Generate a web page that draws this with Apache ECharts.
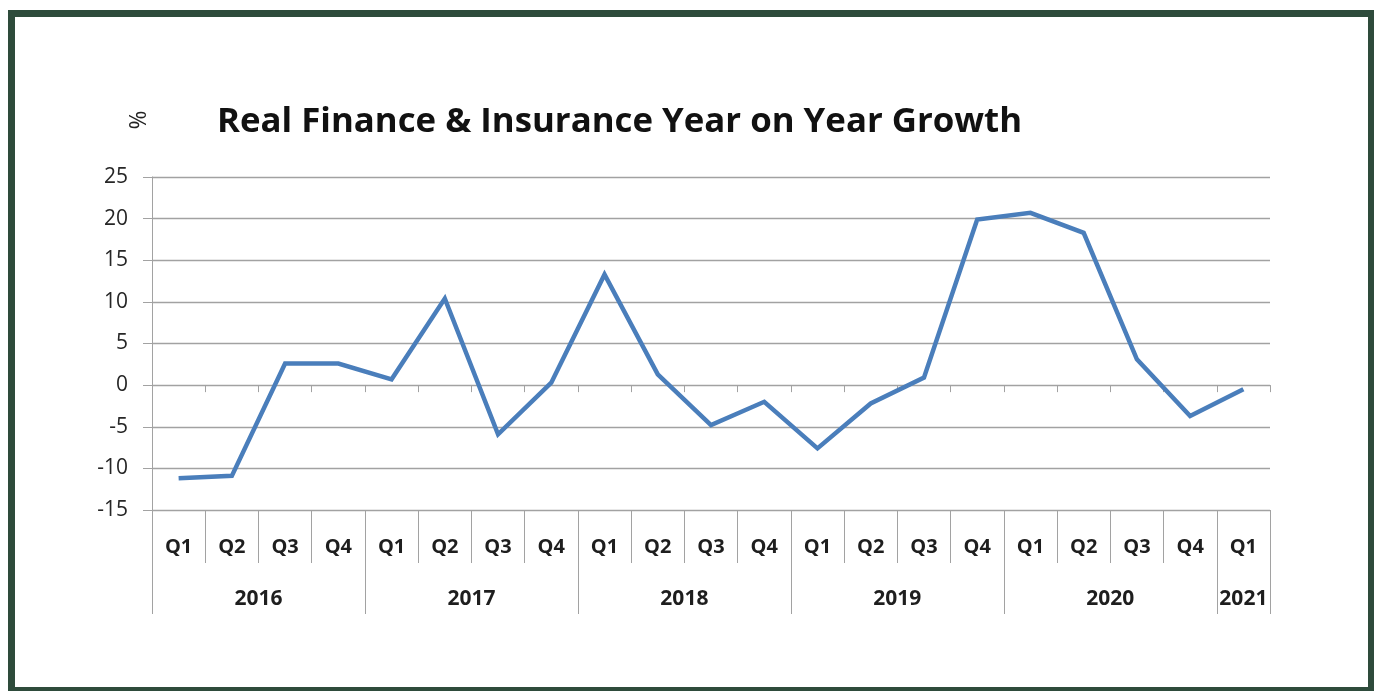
<!DOCTYPE html>
<html>
<head>
<meta charset="utf-8">
<script src="https://cdn.jsdelivr.net/npm/echarts@6/dist/echarts.min.js"></script>
<style>
html,body{margin:0;padding:0;background:#fff;}
#chart{width:1374px;height:691px;}
</style>
</head>
<body>
<div id="chart"></div>
<script>
const quarters = ['Q1','Q2','Q3','Q4','Q1','Q2','Q3','Q4','Q1','Q2','Q3','Q4','Q1','Q2','Q3','Q4','Q1','Q2','Q3','Q4','Q1'];
const years = ['2016','2017','2018','2019','2020','2021'];
const yearQuarterCounts = [4,4,4,4,4,1];
const growth = [-11.2,-10.9,2.6,2.6,0.7,10.4,-5.9,0.3,13.3,1.3,-4.8,-2.0,-7.6,-2.2,0.9,19.9,20.7,18.3,3.1,-3.7,-0.5];
const yTicks = {min:-15, max:25, interval:5};

// year boundaries and centres on a 0..N value scale
const yearBounds = [0];
yearQuarterCounts.forEach(c => yearBounds.push(yearBounds[yearBounds.length-1] + c));
const yearCenters = yearQuarterCounts.map((c,i) => yearBounds[i] + c/2);

const FONT = '"Open Sans", Lato, sans-serif';
const GRID = '#A2A2A2';

const chart = echarts.init(document.getElementById('chart'), null, {renderer:'canvas'});
chart.setOption({
  animation:false,
  backgroundColor:'#fff',
  title:{
    text:'Real Finance & Insurance Year on Year Growth',
    left:212, top:100,
    textStyle:{fontFamily:FONT, fontSize:34.8, fontWeight:'bold', color:'#111'}
  },
  graphic:[
    {type:'rect', left:8, top:10, shape:{width:1360, height:677},
     style:{fill:'none', stroke:'#2E4B3B', lineWidth:7}, silent:true},
    {type:'text', x:139, y:120, rotation:Math.PI/2,
     style:{text:'%', font:'normal 23px "Open Sans"', fill:'#222', align:'center', verticalAlign:'middle'}}
  ],
  grid:{left:152, right:104, top:177, bottom:181, containLabel:false},
  xAxis:[
    {type:'category', data:quarters, boundaryGap:true,
     axisLine:{onZero:true, lineStyle:{color:GRID, width:1}},
     axisTick:{show:true, interval:0, length:7, lineStyle:{color:GRID}},
     axisLabel:{show:false}, splitLine:{show:false}},
    {type:'category', data:quarters, boundaryGap:true, position:'bottom',
     axisLine:{onZero:false, show:true, lineStyle:{color:GRID}},
     axisTick:{show:true, interval:0, length:53, lineStyle:{color:GRID}},
     axisLabel:{show:true, interval:0, margin:27, fontFamily:FONT, fontSize:20, fontWeight:'bold', color:'#1e1e1e'},
     splitLine:{show:false}},
    {type:'value', min:0, max:yearBounds[yearBounds.length-1], position:'bottom',
     axisLine:{onZero:false, show:false},
     axisTick:{show:true, customValues:yearBounds, length:104, lineStyle:{color:GRID}},
     axisLabel:{show:true, customValues:yearCenters, margin:79, fontFamily:FONT, fontSize:21, fontWeight:'bold', color:'#1e1e1e',
       formatter:function(v){ const i = yearCenters.indexOf(v); return i>=0 ? years[i] : ''; }},
     splitLine:{show:false}}
  ],
  yAxis:{
    type:'value', min:yTicks.min, max:yTicks.max, interval:yTicks.interval,
    axisLine:{show:true, lineStyle:{color:GRID}},
    axisTick:{show:true, length:9, lineStyle:{color:GRID}},
    axisLabel:{margin:24, fontFamily:FONT, fontSize:21, color:'#262626'},
    splitLine:{show:true, lineStyle:{color:GRID, width:1.3}}
  },
  series:[{
    type:'line', xAxisIndex:0, data:growth, symbol:'none',
    lineStyle:{color:'#4A7EBB', width:4.5, join:'miter'}
  }]
});
</script>
</body>
</html>
